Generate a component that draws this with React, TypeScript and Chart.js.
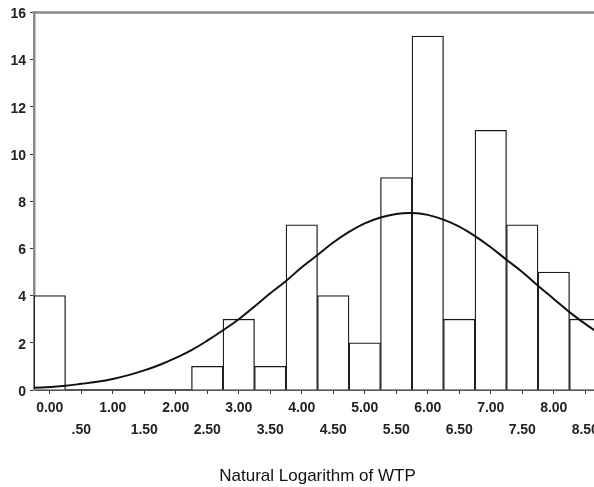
import React, { useEffect, useRef } from 'react';
import { Chart, registerables } from 'chart.js';

Chart.register(...registerables);

// Histogram bins (bin centres, width 0.5) and frequencies
const binCenters = [0, 0.5, 1, 1.5, 2, 2.5, 3, 3.5, 4, 4.5, 5, 5.5, 6, 6.5, 7, 7.5, 8, 8.5];
const binCounts = [4, 0, 0, 0, 0, 1, 3, 1, 7, 4, 2, 9, 15, 3, 11, 7, 5, 3];

// Normal curve
const curveX = [-0.25, 0, 0.25, 0.5, 0.75, 1, 1.25, 1.5, 1.75, 2, 2.25, 2.5, 2.75, 3, 3.25, 3.5, 3.75, 4, 4.25, 4.5, 4.75, 5, 5.25, 5.5, 5.75, 6, 6.25, 6.5, 6.75, 7, 7.25, 7.5, 7.75, 8, 8.25, 8.5, 8.75];
const curveY = [0.09, 0.13, 0.18, 0.26, 0.35, 0.47, 0.63, 0.83, 1.07, 1.36, 1.69, 2.09, 2.53, 3.0, 3.54, 4.1, 4.62, 5.2, 5.72, 6.25, 6.7, 7.06, 7.31, 7.46, 7.5, 7.42, 7.22, 6.92, 6.52, 6.05, 5.52, 5.0, 4.42, 3.86, 3.3, 2.8, 2.34];

// Axis ticks
const xTickValues = [0, 0.5, 1, 1.5, 2, 2.5, 3, 3.5, 4, 4.5, 5, 5.5, 6, 6.5, 7, 7.5, 8, 8.5];
const xTickLabels = ['0.00', '.50', '1.00', '1.50', '2.00', '2.50', '3.00', '3.50', '4.00', '4.50', '5.00', '5.50', '6.00', '6.50', '7.00', '7.50', '8.00', '8.50'];
const yTickValues = [0, 2, 4, 6, 8, 10, 12, 14, 16];
const xTitle = 'Natural Logarithm of WTP';

const FONT = "'Liberation Sans', Arial, sans-serif";

export default function App() {
  const ref = useRef<HTMLCanvasElement | null>(null);

  useEffect(() => {
    const canvas = ref.current;
    if (!canvas) return;

    const topLine = {
      id: 'topLine',
      afterDraw(chart: any) {
        const { ctx, chartArea } = chart;
        ctx.save();
        ctx.strokeStyle = '#8a8a8a';
        ctx.lineWidth = 2.5;
        ctx.beginPath();
        ctx.moveTo(chartArea.left - 1.5, chartArea.top);
        ctx.lineTo(chart.width, chartArea.top);
        ctx.stroke();
        ctx.restore();
      },
    };

    const barData = binCenters
      .map((x, i) => ({ x, y: binCounts[i] }))
      .filter((d) => d.y > 0);
    const lineData = curveX.map((x, i) => ({ x, y: curveY[i] }));

    const chart = new Chart(canvas, {
      type: 'bar',
      data: {
        datasets: [
          {
            type: 'line',
            data: lineData,
            borderColor: '#111',
            borderWidth: 2,
            pointRadius: 0,
            tension: 0.4,
            fill: false,
            order: 0,
          } as any,
          {
            type: 'bar',
            data: barData,
            backgroundColor: '#ffffff',
            borderColor: '#1a1a1a',
            borderWidth: 1.3,
            barPercentage: 1,
            categoryPercentage: 1,
            order: 1,
          } as any,
        ],
      },
      options: {
        responsive: false,
        animation: false,
        layout: { padding: { left: 0, top: 12, right: 19, bottom: 0 } },
        plugins: { legend: { display: false }, tooltip: { enabled: false } },
        scales: {
          x: {
            type: 'linear',
            min: -0.25,
            max: 8.75,
            offset: false,
            afterBuildTicks: (scale: any) => {
              scale.ticks = xTickValues.map((v) => ({ value: v }));
            },
            afterFit: (scale: any) => {
              scale.height = 97;
            },
            grid: {
              display: true,
              offset: false,
              drawOnChartArea: false,
              drawTicks: true,
              tickLength: 4,
              color: '#333',
              lineWidth: 1,
            },
            border: { display: true, color: '#555', width: 2 },
            ticks: {
              autoSkip: false,
              maxRotation: 0,
              minRotation: 0,
              padding: 3,
              color: '#222',
              font: { family: FONT, size: 14, weight: 'bold', lineHeight: 1.57 },
              callback: (value: any) => {
                const idx = xTickValues.indexOf(Number(value));
                const label = idx >= 0 ? xTickLabels[idx] : '';
                return idx % 2 === 0 ? [label, ''] : ['', label];
              },
            },
            title: {
              display: true,
              text: xTitle,
              color: '#111',
              font: { family: FONT, size: 17 },
              padding: { top: 0, bottom: 0 },
            },
          },
          y: {
            min: 0,
            max: 16,
            afterBuildTicks: (scale: any) => {
              scale.ticks = yTickValues.map((v) => ({ value: v }));
            },
            afterFit: (scale: any) => {
              scale.width = 34;
            },
            grid: {
              display: true,
              drawOnChartArea: false,
              drawTicks: true,
              tickLength: 4,
              color: '#333',
              lineWidth: 1,
            },
            border: { display: true, color: '#8a8a8a', width: 2.5 },
            ticks: {
              padding: 4,
              labelOffset: 2,
              color: '#222',
              font: { family: FONT, size: 14, weight: 'bold' },
            },
          },
        },
      } as any,
      plugins: [topLine],
    });

    return () => chart.destroy();
  }, []);

  return (
    <div style={{ position: 'absolute', left: 0, top: 0, width: 594, height: 487, overflow: 'hidden', background: '#fff' }}>
      <canvas ref={ref} width={620} height={487} style={{ display: 'block' }} />
    </div>
  );
}
